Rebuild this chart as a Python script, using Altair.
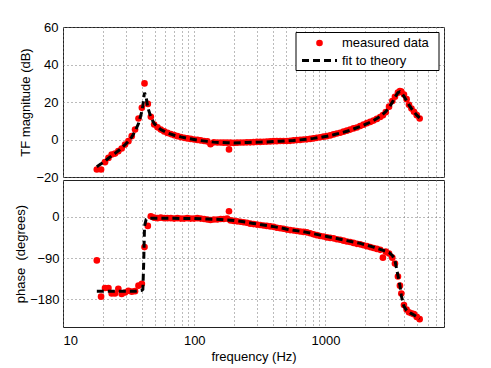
import altair as alt
import pandas as pd

# ---- measured data ----
freq = [18.1, 19.5, 20.9, 22.2, 23.5, 24.9, 26.4, 28.0, 29.7, 31.5, 33.4, 35.4, 37.6, 39.9,
        41.8, 44.3, 46.7, 49.5, 52.5, 55.6, 59.0, 62.5, 66.3, 70.3, 74.5, 79.0, 83.7, 88.7,
        94.0, 99.7, 105.7, 112, 119, 126, 133, 141, 150, 159, 168, 178, 184, 189, 200, 212,
        225, 238, 252, 267, 283, 300, 318, 337, 357, 379, 402, 426, 452, 479, 508, 538, 571,
        605, 641, 680, 721, 764, 810, 859, 911, 966, 1024, 1086, 1151, 1220, 1294, 1372,
        1455, 1542, 1635, 1734, 1838, 1949, 2067, 2191, 2323, 2463, 2612, 2740, 2880, 3050,
        3230, 3383, 3566, 3693, 3784, 3963, 4150, 4326, 4520, 4724, 4960, 5220]
mag = [-16.0, -16.0, -12.1, -9.8, -8.0, -7.5, -6.2, -4.8, -2.7, -0.9, 1.8, 5.3, 11.2, 16.9,
       29.9, 19.0, 12.1, 8.0, 6.5, 5.3, 4.3, 3.5, 2.9, 2.3, 1.8, 1.3, 0.9, 0.6,
       0.3, 0.0, -0.2, -0.5, -0.8, -1.0, -2.5, -1.5, -1.6, -1.6, -1.7, -1.7, -5.3, -1.7, -1.8, -1.7,
       -1.6, -1.6, -1.5, -1.5, -1.4, -1.3, -1.3, -1.2, -1.1, -1.0, -0.9, -0.9, -0.8, -0.8, -0.8, -0.7, -0.5,
       -0.3, -0.2, 0.0, 0.1, 0.3, 0.6, 0.9, 1.2, 1.5, 1.8, 2.2, 2.7, 3.2, 3.6, 4.2,
       4.7, 5.3, 5.9, 6.4, 7.2, 7.9, 8.7, 9.4, 10.1, 11.0, 12.0, 13.0, 14.6, 17.5,
       20.5, 22.8, 25.0, 25.8, 25.5, 24.0, 21.5, 18.5, 16.5, 14.8, 13.0, 11.2]
phase = [-95, -174, -155, -155, -167, -167, -157, -168, -165, -161, -163, -162, -150, -146,
         -66, -20, 1, -2, -3, -2, -3, -3, -3, -4, -3, -4, -4, -3,
         -4, -4, -3, -4, -5, -6, -7, -6, -6, -5, -5, -4, 12, -8, -9, -10,
         -11, -12, -13, -15, -16, -17, -18, -19, -20, -21, -22, -24, -25, -26, -28, -29, -30,
         -31, -32, -33, -34, -36, -38, -40, -42, -43, -45, -46, -47, -49, -50, -52,
         -54, -55, -57, -59, -60, -62, -64, -66, -68, -70, -72, -89, -76, -80,
         -89, -102, -130, -150, -167, -192, -202, -208, -210, -212, -218, -223]

# ---- fit to theory ----
fit_freq = [18.1, 19.5, 20.9, 22.2, 23.5, 24.9, 26.4, 28.0, 29.7, 31.5, 33.4, 35.4, 37.6, 39.9,
            40.6, 41.2, 41.8, 43.0, 44.3, 46.7, 49.5, 55.6, 62.5, 70.3, 79, 88.7, 99.7, 112, 126,
            141, 159, 178, 200, 225, 252, 283, 318, 357, 402, 452, 508, 571, 641, 721, 810, 911,
            1024, 1151, 1294, 1455, 1635, 1838, 2067, 2323, 2612, 2880, 3050, 3230, 3383, 3566,
            3693, 3784, 3963, 4150, 4326, 4520, 4724, 4960, 5220]
fit_mag = [-14.5, -13.0, -11.5, -10.0, -8.7, -7.4, -6.0, -4.5, -2.8, -1.0, 1.3, 4.3, 8.5, 15.0,
           18.0, 22.0, 25.0, 22.5, 17.0, 12.0, 8.5, 5.3, 3.5, 2.3, 1.4, 0.6, 0.0, -0.6, -1.0,
           -1.4, -1.6, -1.7, -1.8, -1.7, -1.6, -1.5, -1.4, -1.3, -1.1, -0.9, -0.7, -0.5, -0.2, 0.2, 0.6, 1.1,
           1.7, 2.5, 3.4, 4.4, 5.6, 6.9, 8.4, 10.1, 12.3, 14.9, 17.0, 19.8, 22.5, 25.0,
           25.5, 25.0, 23.0, 20.5, 18.5, 16.5, 14.8, 13.0, 11.5]
fit_phase = [-162, -162, -162, -162, -162, -162, -162, -162, -162, -162, -162, -162, -161, -160,
             -158, -100, -20, -6, -4, -3.5, -3.5, -3.5, -3.5, -3.5, -4, -4, -4, -4.5, -5,
             -5.5, -6, -7, -8, -10, -12, -14.5, -17, -19, -21.5, -24, -27, -29.5, -31.5, -34, -37, -40,
             -43, -46, -49, -52, -55, -58, -62, -66, -71, -75, -78, -84, -95, -128,
             -150, -172, -195, -204, -208, -211, -214, -218, -222]

x_grid = [10, 20, 30, 40, 50, 60, 70, 80, 90, 100, 200, 300, 400, 500, 600, 700, 800, 900,
          1000, 2000, 3000, 4000, 5000, 6000, 7000, 8000]
legend_labels = ["measured data", "fit to theory"]

meas = pd.DataFrame({"f": freq, "mag": mag, "phase": phase})
fit = pd.DataFrame({"f": fit_freq, "mag": fit_mag, "phase": fit_phase})

FONT = "Liberation Sans"
W, H1, H2 = 381, 150, 147
DOT = 44
xscale = alt.Scale(type="log", domain=[10, 8000], nice=False)

grid_kw = dict(grid=True, gridDash=[1, 3], gridColor="#777", gridWidth=1, domain=False, ticks=False)

x_top = alt.X("f:Q", scale=xscale, axis=alt.Axis(values=x_grid, labels=False, title=None, **grid_kw))
x_bot = alt.X("f:Q", scale=xscale, axis=alt.Axis(
    values=x_grid, title="frequency (Hz)",
    labelExpr="(datum.value == 10 || datum.value == 100 || datum.value == 1000) ? format(datum.value, 'd') : ''",
    labelPadding=7, titlePadding=3, **grid_kw))

y_top = alt.Y("mag:Q", scale=alt.Scale(domain=[-20, 60], nice=False),
              axis=alt.Axis(values=[-20, 0, 20, 40, 60], title="TF magnitude (dB)",
                            labelPadding=5, titlePadding=3, **grid_kw))
y_bot = alt.Y("phase:Q", scale=alt.Scale(domain=[-240, 80], nice=False),
              axis=alt.Axis(values=[0, -90, -180], title="phase \u00a0(degrees)",
                            labelPadding=4, titlePadding=2, **grid_kw))

pts_top = alt.Chart(meas).mark_circle(color="#ff0000", size=DOT, opacity=1, clip=True).encode(x=x_top, y=y_top)
line_top = alt.Chart(fit).mark_line(color="black", strokeWidth=3, strokeDash=[7, 4], clip=True).encode(x=x_top, y=y_top)

# legend (inside top panel)
lg_box = alt.Chart(pd.DataFrame({"k": [0]})).mark_rect(fill="white", stroke="black", strokeWidth=1).encode(
    x=alt.value(233), x2=alt.value(376), y=alt.value(5.5), y2=alt.value(43.5))
lg_pt = alt.Chart(pd.DataFrame({"label": [legend_labels[0]]})).mark_circle(color="#ff0000", size=DOT, opacity=1).encode(
    x=alt.value(256.5), y=alt.value(16))
lg_ln = alt.Chart(pd.DataFrame({"label": [legend_labels[1]]})).mark_rule(color="black", strokeWidth=3, strokeDash=[7, 4]).encode(
    x=alt.value(239), x2=alt.value(274), y=alt.value(33.5))
lg_t1 = alt.Chart(pd.DataFrame({"label": [legend_labels[0]]})).mark_text(
    align="left", baseline="middle", font=FONT, fontSize=13, color="black").encode(
    x=alt.value(279), y=alt.value(16), text="label:N")
lg_t2 = alt.Chart(pd.DataFrame({"label": [legend_labels[1]]})).mark_text(
    align="left", baseline="middle", font=FONT, fontSize=13, color="black").encode(
    x=alt.value(279), y=alt.value(33.5), text="label:N")

top = alt.layer(pts_top, line_top, lg_box, lg_pt, lg_ln, lg_t1, lg_t2).properties(width=W, height=H1)

pts_bot = alt.Chart(meas).mark_circle(color="#ff0000", size=DOT, opacity=1, clip=True).encode(x=x_bot, y=y_bot)
line_bot = alt.Chart(fit).mark_line(color="black", strokeWidth=3, strokeDash=[7, 4], clip=True).encode(x=x_bot, y=y_bot)
bottom = alt.layer(pts_bot, line_bot).properties(width=W, height=H2)

chart = alt.vconcat(top, bottom, spacing=3, bounds="flush").properties(
    padding={"left": 6, "top": 12, "right": 0, "bottom": 0}
).configure_view(stroke="#222", strokeWidth=1).configure_axis(
    labelFont=FONT, titleFont=FONT, labelFontSize=13, titleFontSize=13,
    labelColor="black", titleColor="black", titleFontWeight="normal"
)

chart.save("out.html", embed_options={"renderer": "svg", "actions": False})
